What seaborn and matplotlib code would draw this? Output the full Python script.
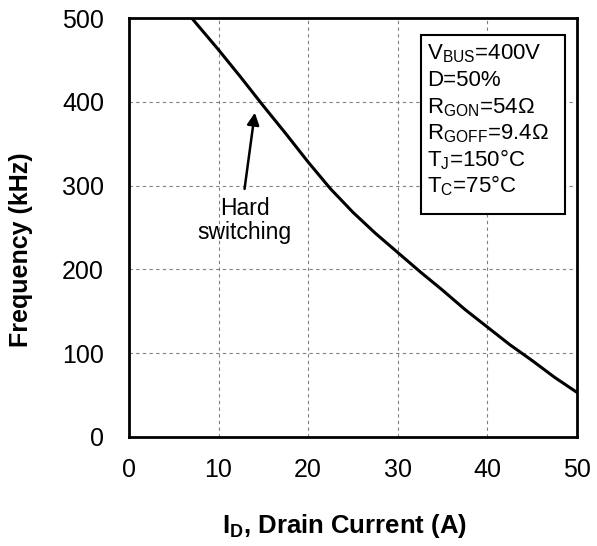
import numpy as np
import pandas as pd
import seaborn as sns
import matplotlib.pyplot as plt
from matplotlib.patches import Rectangle

# === DATOS ===
drain_current = [7, 10, 12.5, 15, 17.5, 20, 22.5, 25, 27.5, 30, 32.5, 35, 37.5, 40, 42.5, 45, 47.5, 50]
frequency_khz = [500, 462, 429, 395, 362, 328, 296, 268, 243, 220, 197, 175, 152, 131, 110, 91, 71, 53]

x_ticks = [0, 10, 20, 30, 40, 50]
y_ticks = [0, 100, 200, 300, 400, 500]

conditions = [
    r"V$_{\mathrm{BUS}}$=400V",
    "D=50%",
    r"R$_{\mathrm{GON}}$=54Ω",
    r"R$_{\mathrm{GOFF}}$=9.4Ω",
    r"T$_{\mathrm{J}}$=150°C",
    r"T$_{\mathrm{C}}$=75°C",
]

df = pd.DataFrame({"I_D": drain_current, "f": frequency_khz})

# === ESTILO ===
sns.set_theme(style="white")
plt.rcParams["font.family"] = ["Liberation Sans", "DejaVu Sans"]
plt.rcParams["mathtext.fontset"] = "custom"
plt.rcParams["mathtext.rm"] = "Liberation Sans"
plt.rcParams["mathtext.it"] = "Liberation Sans:italic"
plt.rcParams["mathtext.bf"] = "Liberation Sans:bold"
plt.rcParams["text.color"] = "black"
plt.rcParams["axes.labelcolor"] = "black"

fig = plt.figure(figsize=(5.97, 5.46), dpi=100)
ax = fig.add_axes([0.216, 0.2, 0.7505, 0.767])

sns.lineplot(data=df, x="I_D", y="f", ax=ax, color="black", linewidth=2.2, sort=False)

ax.set_xlim(0, 50)
ax.set_ylim(0, 500)
ax.set_xticks(x_ticks)
ax.set_yticks(y_ticks)
ax.tick_params(axis="both", labelsize=18, length=7, width=1, direction="out",
               color="#555555", labelcolor="black")
ax.tick_params(axis="y", pad=11)
ax.tick_params(axis="x", pad=8)

ax.grid(True, linestyle=(0, (3, 3)), color="#808080", linewidth=0.8)
for s in ax.spines.values():
    s.set_linewidth(2)
    s.set_color("black")

ax.set_xlabel(r"I$_{\mathbf{D}}$, Drain Current (A)", fontsize=18.5, fontweight="bold")
ax.set_ylabel("Frequency (kHz)", fontsize=18, fontweight="bold")
ax.xaxis.set_label_coords(0.482, -0.179)
ax.yaxis.set_label_coords(-0.214, 0.446)

# --- Caja de condiciones ---
ax.add_patch(Rectangle((32.6, 266), 16.1, 214, facecolor="white",
                       edgecolor="black", linewidth=1.5, zorder=3))
y0 = 450
for i, txt in enumerate(conditions):
    ax.text(33.3, y0 - i * 31.7, txt, fontsize=16, va="baseline", ha="left", zorder=4)

# --- Flecha "Hard switching" ---
ax.annotate("", xy=(14.05, 387), xytext=(12.9, 296),
            arrowprops=dict(arrowstyle="-|>", color="black", lw=1.8,
                            mutation_scale=18, shrinkA=0, shrinkB=0))
ax.text(12.9, 258, "Hard\nswitching", ha="center", va="center",
        fontsize=16.5, linespacing=1.05)

fig.savefig("out.png", dpi=100)
